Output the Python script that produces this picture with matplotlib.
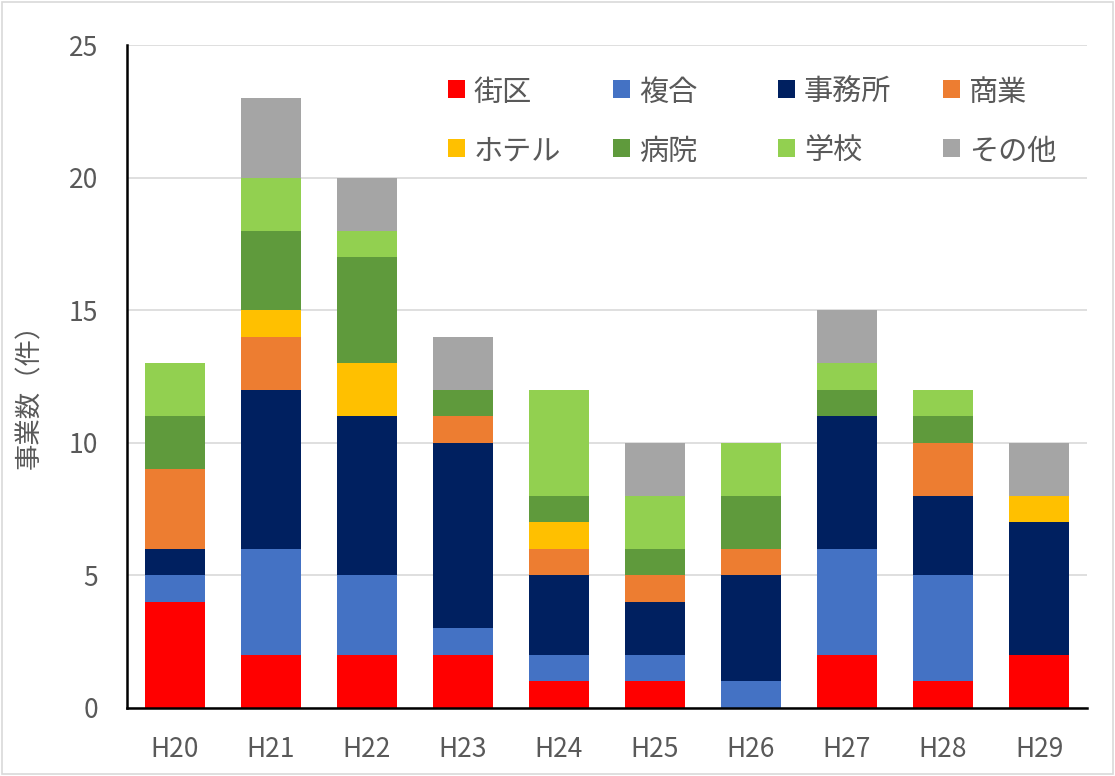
import numpy as np
import matplotlib
matplotlib.use("Agg")
import matplotlib.pyplot as plt
from matplotlib.patches import Rectangle

plt.rcParams['font.family'] = ['Noto Sans CJK JP', 'DejaVu Sans']

# 年度
years = ["H20", "H21", "H22", "H23", "H24", "H25", "H26", "H27", "H28", "H29"]

# 用途別の事業数
gaiku = [4, 2, 2, 2, 1, 1, 0, 2, 1, 2]
fukugo = [1, 4, 3, 1, 1, 1, 1, 4, 4, 0]
jimusho = [1, 6, 6, 7, 3, 2, 4, 5, 3, 5]
shogyo = [3, 2, 0, 1, 1, 1, 1, 0, 2, 0]
hotel = [0, 1, 2, 0, 1, 0, 0, 0, 0, 1]
byoin = [2, 3, 4, 1, 1, 1, 2, 1, 1, 0]
gakko = [2, 2, 1, 0, 4, 2, 2, 1, 1, 0]
sonota = [0, 3, 2, 2, 0, 2, 0, 2, 0, 2]

series_names = ["街区", "複合", "事務所", "商業", "ホテル", "病院", "学校", "その他"]
series_vals = [gaiku, fukugo, jimusho, shogyo, hotel, byoin, gakko, sonota]
colors = ["#FF0000", "#4472C4", "#002060", "#ED7D31",
          "#FFC000", "#5F9A3C", "#92D050", "#A5A5A5"]

txt_color = "#595959"
W, H = 1115, 776

fig = plt.figure(figsize=(W / 100, H / 100), dpi=100)
ax = fig.add_axes([127 / W, 1 - 708 / H, 960 / W, 663 / H])

x = np.arange(len(years))
bottom = np.zeros(len(years))
for name, vals, col in zip(series_names, series_vals, colors):
    ax.bar(x, vals, width=0.635, bottom=bottom, color=col, label=name, zorder=3)
    bottom += np.array(vals)

ax.set_xlim(-0.5, len(years) - 0.5)
ax.set_ylim(0, 25)
ax.set_yticks([0, 5, 10, 15, 20, 25])
ax.set_xticks(x)
ax.set_xticklabels(years)
ax.yaxis.grid(True, color="#D9D9D9", linewidth=1.2, zorder=0)
ax.set_axisbelow(True)

for s in ["top", "right"]:
    ax.spines[s].set_visible(False)
for s in ["left", "bottom"]:
    ax.spines[s].set_color("black")
    ax.spines[s].set_linewidth(1.8)
    ax.spines[s].set_zorder(4)

ax.tick_params(axis="both", length=0, labelsize=19, colors=txt_color)
ax.tick_params(axis="x", pad=20)
ax.tick_params(axis="y", pad=21)
ax.set_ylabel("事業数（件）", fontsize=19, color=txt_color)
ax.yaxis.set_label_coords(-0.087, 0.48)

# 凡例 (Excel風に等間隔で2行4列)
leg_x = [448, 613, 778, 943]
leg_y = [89, 148]
for i, (name, col) in enumerate(zip(series_names, colors)):
    px = leg_x[i % 4]
    py = leg_y[i // 4]
    fig.add_artist(Rectangle((px / W, 1 - (py + 8.5) / H), 17 / W, 17 / H,
                             transform=fig.transFigure, facecolor=col,
                             edgecolor="none"))
    fig.text((px + 26) / W, 1 - py / H, name, fontsize=21, color=txt_color,
             ha="left", va="center_baseline")

fig.add_artist(Rectangle((0.002, 0.002), 0.996, 0.996, transform=fig.transFigure,
                         fill=False, edgecolor="#D9D9D9", linewidth=1.2))

fig.savefig("out.png", dpi=100)
